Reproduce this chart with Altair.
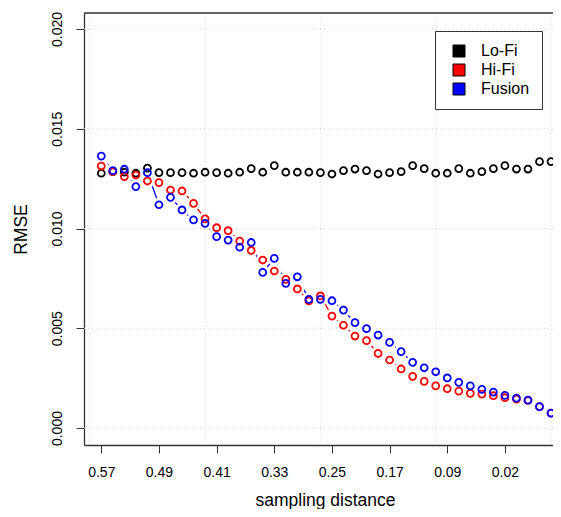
import json
import altair as alt
import pandas as pd

# ---- data ----
index = list(range(1, 41))
lofi = [12.77, 12.85, 12.82, 12.77, 13.03, 12.80, 12.80, 12.80, 12.77, 12.82,
        12.80, 12.77, 12.82, 13.00, 12.82, 13.15, 12.82, 12.82, 12.82, 12.80,
        12.73, 12.90, 12.98, 12.90, 12.73, 12.80, 12.85, 13.15, 13.00, 12.77,
        12.77, 13.00, 12.77, 12.85, 13.00, 13.15, 12.98, 12.98, 13.35, 13.35]
hifi = [13.13, 12.85, 12.60, 12.68, 12.38, 12.30, 11.93, 11.88, 11.26, 10.48,
        10.04, 9.89, 9.37, 8.90, 8.42, 7.87, 7.45, 6.97, 6.37, 6.62,
        5.61, 5.15, 4.61, 4.38, 3.74, 3.41, 2.96, 2.59, 2.34, 2.11,
        1.97, 1.85, 1.74, 1.70, 1.62, 1.52, 1.45, 1.38, 1.07, 0.75]
fusion = [13.63, 12.90, 12.97, 12.10, 12.80, 11.19, 11.56, 10.93, 10.43, 10.26,
          9.59, 9.42, 9.06, 9.30, 7.80, 8.50, 7.25, 7.58, 6.45, 6.45,
          6.38, 5.91, 5.28, 4.98, 4.66, 4.29, 3.83, 3.29, 3.02, 2.82,
          2.51, 2.29, 2.11, 1.94, 1.80, 1.64, 1.50, 1.40, 1.07, 0.75]
tick_index = [1, 6, 11, 16, 21, 26, 31, 36]
tick_labels = ["0.57", "0.49", "0.41", "0.33", "0.25", "0.17", "0.09", "0.02"]
y_ticks = [0.0, 0.005, 0.010, 0.015, 0.020]
x_grid = [0, 10, 20, 30, 40]
series = ["Lo-Fi", "Hi-Fi", "Fusion"]
colors = ["#000000", "#FF0000", "#0000FF"]

rows = []
for name, vals in zip(series, [lofi, hifi, fusion]):
    for i, v in zip(index, vals):
        rows.append({"idx": i, "rmse": v / 1000.0, "series": name})
df = pd.DataFrame(rows)

FONT = "Liberation Sans"
FRAME = "#333333"
Y_MIN, Y_MAX = -0.00085, 0.0208

xscale = alt.Scale(domain=[-0.5, 40.17], nice=False, zero=False)
yscale = alt.Scale(domain=[Y_MIN, Y_MAX], nice=False, zero=False)
# same mapping as the legend, listed in another order so the two are not merged
stroke_scale = alt.Scale(domain=series[::-1], range=colors[::-1])
fill_scale = alt.Scale(domain=series, range=colors)

label_expr = json.dumps(tick_labels) + "[(datum.value - 1) / 5]"

x_axis = alt.Axis(values=tick_index, labelExpr=label_expr, grid=False,
                  tickSize=8, tickColor=FRAME, domainColor=FRAME, domainWidth=1.3,
                  labelFont=FONT, labelFontSize=14, labelColor="black",
                  labelPadding=12, labelFlush=False, labelOverlap=False,
                  title="sampling distance", titleFont=FONT, titleFontSize=17.5,
                  titleFontWeight="normal", titleColor="black", titlePadding=12,
                  titleX=241)
y_axis = alt.Axis(values=y_ticks, format=".3f", grid=False,
                  tickSize=8, tickColor=FRAME, domainColor=FRAME, domainWidth=1.3,
                  labelFont=FONT, labelFontSize=14, labelColor="black",
                  labelAngle=-90, labelAlign="center", labelBaseline="bottom",
                  labelPadding=12, labelFlush=False, labelOverlap=False,
                  title="RMSE", titleFont=FONT, titleFontSize=17.5,
                  titleFontWeight="normal", titleColor="black", titlePadding=20)

base = alt.Chart(df)

lines = base.mark_line(strokeWidth=1.3).encode(
    x=alt.X("idx:Q", scale=xscale, axis=x_axis),
    y=alt.Y("rmse:Q", scale=yscale, axis=y_axis),
    stroke=alt.Stroke("series:N", scale=stroke_scale, legend=None),
    order="idx:Q",
)

masks = base.mark_point(filled=True, fill="white", strokeOpacity=0, size=200, opacity=1).encode(
    x=alt.X("idx:Q", scale=xscale),
    y=alt.Y("rmse:Q", scale=yscale),
)

xgrid = alt.Chart(pd.DataFrame({"g": x_grid})).mark_rule(
    color="#d3d3d3", strokeDash=[1, 3], strokeWidth=1
).encode(x=alt.X("g:Q", scale=xscale))

ygrid = alt.Chart(pd.DataFrame({"g": y_ticks})).mark_rule(
    color="#d3d3d3", strokeDash=[1, 3], strokeWidth=1
).encode(y=alt.Y("g:Q", scale=yscale))

# top edge of the plot frame, placed at the top of the y scale
top_frame = alt.Chart(pd.DataFrame({"g": [Y_MAX]})).mark_rule(
    color=FRAME, strokeWidth=1.3
).encode(y=alt.Y("g:Q", scale=yscale))

circles = base.mark_point(filled=False, size=48, strokeWidth=1.8, opacity=1).encode(
    x=alt.X("idx:Q", scale=xscale),
    y=alt.Y("rmse:Q", scale=yscale),
    stroke=alt.Stroke("series:N", scale=stroke_scale, legend=None),
)

legend_layer = base.transform_filter(alt.datum.idx < 0).mark_square(size=144).encode(
    x=alt.X("idx:Q", scale=xscale),
    y=alt.Y("rmse:Q", scale=yscale),
    fill=alt.Fill("series:N", scale=fill_scale,
                  legend=alt.Legend(title=None, orient="none", legendX=351, legendY=18,
                                    symbolType="square", symbolSize=144,
                                    symbolStrokeColor="black", symbolStrokeWidth=1,
                                    symbolOpacity=1, symbolOffset=4,
                                    labelFont=FONT, labelFontSize=16, labelColor="black",
                                    labelOffset=14, labelLimit=200,
                                    padding=12, rowPadding=3,
                                    strokeColor=FRAME, fillColor="white")),
)

chart = alt.layer(lines, masks, xgrid, ygrid, top_frame, circles, legend_layer).properties(
    width=469, height=432,
    padding={"left": 76, "top": 5, "right": 0, "bottom": 64},
    autosize="none",
).configure_view(stroke=None).configure(background="white")

chart.save("out.html", embed_options={"renderer": "svg", "actions": False})
